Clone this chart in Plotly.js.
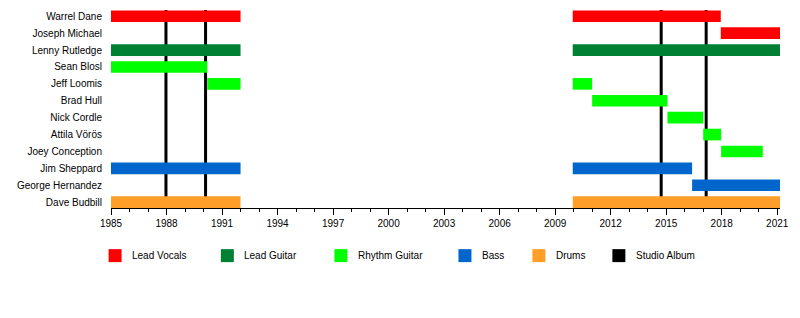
<!DOCTYPE html>
<html>
<head>
<meta charset="utf-8">
<script src="https://cdn.plot.ly/plotly-3.0.1.min.js"></script>
<style>html,body{margin:0;padding:0;background:#fff}#chart{width:800px;height:318px}</style>
</head>
<body>
<div id="chart"></div>
<script>
// ---- data ----
const members = ['Warrel Dane','Joseph Michael','Lenny Rutledge','Sean Blosl','Jeff Loomis','Brad Hull','Nick Cordle','Attila Vörös','Joey Conception','Jim Sheppard','George Hernandez','Dave Budbill'];

const vocalsWho  = ['Warrel Dane','Warrel Dane','Joseph Michael'];
const vocalsFrom = [1985, 2009.95, 2017.95];
const vocalsTo   = [1992, 2017.95, 2021.15];

const leadGuitarWho  = ['Lenny Rutledge','Lenny Rutledge'];
const leadGuitarFrom = [1985, 2009.95];
const leadGuitarTo   = [1992, 2021.15];

const rhythmWho  = ['Sean Blosl','Jeff Loomis','Jeff Loomis','Brad Hull','Nick Cordle','Attila Vörös','Joey Conception'];
const rhythmFrom = [1985, 1990.2, 2009.95, 2011.0, 2015.07, 2017.0, 2017.97];
const rhythmTo   = [1990.2, 1992, 2011.0, 2015.07, 2017.0, 2017.97, 2020.22];

const bassWho  = ['Jim Sheppard','Jim Sheppard','George Hernandez'];
const bassFrom = [1985, 2009.95, 2016.4];
const bassTo   = [1992, 2016.4, 2021.15];

const drumsWho  = ['Dave Budbill','Dave Budbill'];
const drumsFrom = [1985, 2009.95];
const drumsTo   = [1992, 2021.15];

const albumYears = [1987.97, 1990.11, 2014.73, 2017.16];

const legendLabels = ['Lead Vocals','Lead Guitar','Rhythm Guitar','Bass','Drums','Studio Album'];
const legendColors = ['#ff0000','#008033','#00ff00','#0066cc','#ff9f29','#000000'];

const xTickStart = 1985, xMajorStep = 3, xMinorStep = 1;
const xRange = [1985, 2021.15];

// ---- layout constants ----
const W = 800, H = 318;
const M = {l: 110.7, r: 20, t: 10, b: 109.7};
const PW = W - M.l - M.r, PH = H - M.t - M.b;
const FONT = '"Liberation Sans", Arial, Helvetica, sans-serif';
const FS = 10;
const px2x = px => (px - M.l) / PW;
const py2y = py => (H - M.b - py) / PH;
const legendLeftPx = [108.3, 220.6, 334.2, 458.3, 532.3, 612.3];
const swatch = {top: 249.5, size: 13, textGap: 21.5};

function barTrace(name, color, who, from, to) {
  return {
    type: 'bar', orientation: 'h', name: name,
    y: who, base: from, x: to.map((t, i) => t - from[i]),
    marker: {color: color, line: {width: 0}},
    width: 0.69, showlegend: false, hoverinfo: 'skip'
  };
}

const traces = [
  barTrace('Lead Vocals', legendColors[0], vocalsWho, vocalsFrom, vocalsTo),
  barTrace('Lead Guitar', legendColors[1], leadGuitarWho, leadGuitarFrom, leadGuitarTo),
  barTrace('Rhythm Guitar', legendColors[2], rhythmWho, rhythmFrom, rhythmTo),
  barTrace('Bass', legendColors[3], bassWho, bassFrom, bassTo),
  barTrace('Drums', legendColors[4], drumsWho, drumsFrom, drumsTo)
];

const shapes = albumYears.map(a => ({
  type: 'line', layer: 'below', xref: 'x', yref: 'paper',
  x0: a, x1: a, y0: 0, y1: 1,
  line: {color: legendColors[5], width: 3}
}));

const annotations = [];
legendLabels.forEach((lab, i) => {
  const left = legendLeftPx[i];
  shapes.push({
    type: 'rect', xref: 'paper', yref: 'paper', layer: 'above',
    x0: px2x(left), x1: px2x(left + swatch.size),
    y0: py2y(swatch.top + swatch.size), y1: py2y(swatch.top),
    fillcolor: legendColors[i], line: {width: 0}
  });
  annotations.push({
    xref: 'paper', yref: 'paper', x: px2x(left + swatch.textGap), y: py2y(swatch.top + swatch.size / 2),
    xanchor: 'left', yanchor: 'middle', showarrow: false, text: lab,
    font: {family: FONT, size: FS, color: '#000'}
  });
});

const layout = {
  width: W, height: H, margin: M,
  paper_bgcolor: '#fff', plot_bgcolor: '#fff',
  barmode: 'overlay', showlegend: false,
  font: {family: FONT, size: FS, color: '#000'},
  xaxis: {
    range: xRange, showgrid: false, zeroline: false,
    showline: true, linecolor: '#000', linewidth: 1,
    tick0: xTickStart, dtick: xMajorStep, ticks: 'outside', ticklen: 6, tickwidth: 1, tickcolor: '#000',
    minor: {tick0: xTickStart, dtick: xMinorStep, ticks: 'outside', ticklen: 3, tickwidth: 1, tickcolor: '#000', showgrid: false},
    tickfont: {family: FONT, size: FS, color: '#000'}, fixedrange: true
  },
  yaxis: {
    type: 'category', categoryorder: 'array', categoryarray: members,
    range: [11.345, -0.37], showgrid: false, zeroline: false, showline: false,
    ticks: '', ticklabelstandoff: 8,
    tickfont: {family: FONT, size: FS, color: '#000'}, fixedrange: true
  },
  shapes: shapes, annotations: annotations
};

Plotly.newPlot('chart', traces, layout, {staticPlot: true, displayModeBar: false});
</script>
</body>
</html>
